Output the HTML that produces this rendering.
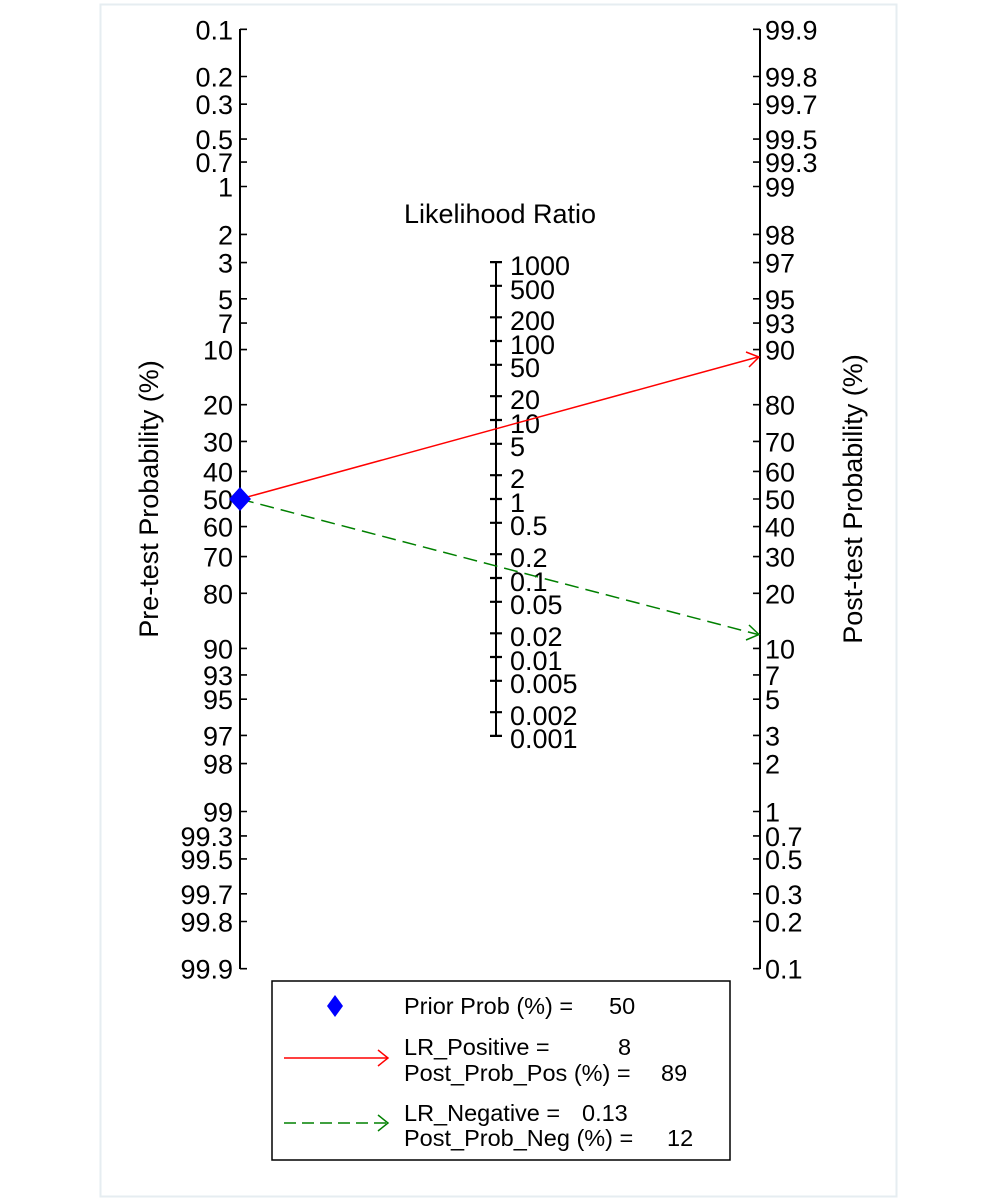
<!DOCTYPE html>
<html><head><meta charset="utf-8"><style>
html,body{margin:0;padding:0;background:#fff;}
svg{display:block;font-family:"Liberation Sans",Arial,sans-serif;}
</style></head><body>
<svg width="999" height="1199" viewBox="0 0 999 1199" xmlns="http://www.w3.org/2000/svg">
<rect x="100.5" y="4.5" width="796" height="1192" fill="#fff" stroke="#e6edf1" stroke-width="2"/>
<g stroke="#000" stroke-width="2" fill="none">
<line x1="240" y1="29" x2="240" y2="969"/>
<line x1="760" y1="29" x2="760" y2="969"/>
<line x1="496" y1="262" x2="496" y2="736"/>
</g>
<g stroke="#000" stroke-width="1.6">
<path d="M240 29.3h7M240 76.5h7M240 104.2h7M240 139.1h7M240 162.1h7M240 186.5h7M240 234.4h7M240 262.6h7M240 298.8h7M240 323.1h7M240 349.6h7M240 404.7h7M240 441.4h7M240 471.4h7M240 499h7M240 526.6h7M240 556.6h7M240 593.3h7M240 648.4h7M240 674.9h7M240 699.2h7M240 735.4h7M240 763.6h7M240 811.5h7M240 835.9h7M240 858.9h7M240 893.8h7M240 921.5h7M240 968.7h7"/>
<path d="M753 29.3h7M753 76.5h7M753 104.2h7M753 139.1h7M753 162.1h7M753 186.5h7M753 234.4h7M753 262.6h7M753 298.8h7M753 323.1h7M753 349.6h7M753 404.7h7M753 441.4h7M753 471.4h7M753 499h7M753 526.6h7M753 556.6h7M753 593.3h7M753 648.4h7M753 674.9h7M753 699.2h7M753 735.4h7M753 763.6h7M753 811.5h7M753 835.9h7M753 858.9h7M753 893.8h7M753 921.5h7M753 968.7h7"/>
<path stroke-width="2.2" d="M490 262.1h12M490 285.8h12M490 317.3h12M490 341h12M490 364.8h12M490 396.2h12M490 420h12M490 443.8h12M490 475.2h12M490 499h12M490 522.8h12M490 554.2h12M490 578h12M490 601.8h12M490 633.3h12M490 657h12M490 680.8h12M490 712.2h12M490 735.9h12"/>
</g>
<g font-size="27" text-anchor="end" fill="#000">
<text x="233" y="39.3">0.1</text><text x="233" y="86.5">0.2</text><text x="233" y="114.2">0.3</text><text x="233" y="149.1">0.5</text><text x="233" y="172.1">0.7</text><text x="233" y="196.5">1</text><text x="233" y="244.4">2</text><text x="233" y="272.6">3</text><text x="233" y="308.8">5</text><text x="233" y="333.1">7</text><text x="233" y="359.6">10</text><text x="233" y="414.7">20</text><text x="233" y="451.4">30</text><text x="233" y="481.4">40</text><text x="233" y="509">50</text><text x="233" y="536.6">60</text><text x="233" y="566.6">70</text><text x="233" y="603.3">80</text><text x="233" y="658.4">90</text><text x="233" y="684.9">93</text><text x="233" y="709.2">95</text><text x="233" y="745.4">97</text><text x="233" y="773.6">98</text><text x="233" y="821.5">99</text><text x="233" y="845.9">99.3</text><text x="233" y="868.9">99.5</text><text x="233" y="903.8">99.7</text><text x="233" y="931.5">99.8</text><text x="233" y="978.7">99.9</text>
</g>
<g font-size="27" fill="#000">
<text x="765" y="39.3">99.9</text><text x="765" y="86.5">99.8</text><text x="765" y="114.2">99.7</text><text x="765" y="149.1">99.5</text><text x="765" y="172.1">99.3</text><text x="765" y="196.5">99</text><text x="765" y="244.4">98</text><text x="765" y="272.6">97</text><text x="765" y="308.8">95</text><text x="765" y="333.1">93</text><text x="765" y="359.6">90</text><text x="765" y="414.7">80</text><text x="765" y="451.4">70</text><text x="765" y="481.4">60</text><text x="765" y="509">50</text><text x="765" y="536.6">40</text><text x="765" y="566.6">30</text><text x="765" y="603.3">20</text><text x="765" y="658.4">10</text><text x="765" y="684.9">7</text><text x="765" y="709.2">5</text><text x="765" y="745.4">3</text><text x="765" y="773.6">2</text><text x="765" y="821.5">1</text><text x="765" y="845.9">0.7</text><text x="765" y="868.9">0.5</text><text x="765" y="903.8">0.3</text><text x="765" y="931.5">0.2</text><text x="765" y="978.7">0.1</text>
</g>
<g font-size="27" fill="#000">
<text x="510" y="275">1000</text><text x="510" y="299">500</text><text x="510" y="330">200</text><text x="510" y="354">100</text><text x="510" y="377">50</text><text x="510" y="409">20</text><text x="510" y="433">10</text><text x="510" y="456">5</text><text x="510" y="488">2</text><text x="510" y="512">1</text><text x="510" y="535">0.5</text><text x="510" y="567">0.2</text><text x="510" y="591">0.1</text><text x="510" y="614">0.05</text><text x="510" y="646">0.02</text><text x="510" y="670">0.01</text><text x="510" y="693">0.005</text><text x="510" y="725">0.002</text><text x="510" y="748">0.001</text>
</g>
<text x="500" y="223" font-size="27" text-anchor="middle">Likelihood Ratio</text>
<text transform="translate(158,499) rotate(-90)" font-size="27" text-anchor="middle">Pre-test Probability (%)</text>
<text transform="translate(862,499) rotate(-90)" font-size="27" text-anchor="middle">Post-test Probability (%)</text>
<line x1="240" y1="499" x2="758" y2="357" stroke="#ff0000" stroke-width="1.5"/>
<path d="M746 352 L759 357 L749 367" fill="none" stroke="#ff0000" stroke-width="1.5"/>
<line x1="240" y1="499" x2="758" y2="634.5" stroke="#008000" stroke-width="1.5" stroke-dasharray="14,7"/>
<path d="M749 625 L759 634.5 L746 640" fill="none" stroke="#008000" stroke-width="1.5"/>
<polygon points="240,487 251,499 240,511 229,499" fill="#0000ff"/>
<rect x="272" y="981" width="458" height="179" fill="#fff" stroke="#000" stroke-width="1.5"/>
<polygon points="335,995 343,1006 335,1017 327,1006" fill="#0000ff"/>
<line x1="284" y1="1058" x2="387" y2="1058" stroke="#ff0000" stroke-width="1.5"/>
<path d="M378 1050 L388 1058 L378 1066" fill="none" stroke="#ff0000" stroke-width="1.5"/>
<line x1="284" y1="1123" x2="387" y2="1123" stroke="#008000" stroke-width="1.5" stroke-dasharray="12,6"/>
<path d="M378 1115 L388 1123 L378 1131" fill="none" stroke="#008000" stroke-width="1.5"/>
<g font-size="23.5" fill="#000">
<text x="404" y="1014">Prior Prob (%) =</text><text x="609" y="1014">50</text>
<text x="404" y="1055">LR_Positive =</text><text x="618" y="1055">8</text>
<text x="404" y="1081">Post_Prob_Pos (%) =</text><text x="661" y="1081">89</text>
<text x="404" y="1121">LR_Negative =</text><text x="582" y="1121">0.13</text>
<text x="404" y="1146">Post_Prob_Neg (%) =</text><text x="667" y="1146">12</text>
</g>
</svg>
</body></html>
